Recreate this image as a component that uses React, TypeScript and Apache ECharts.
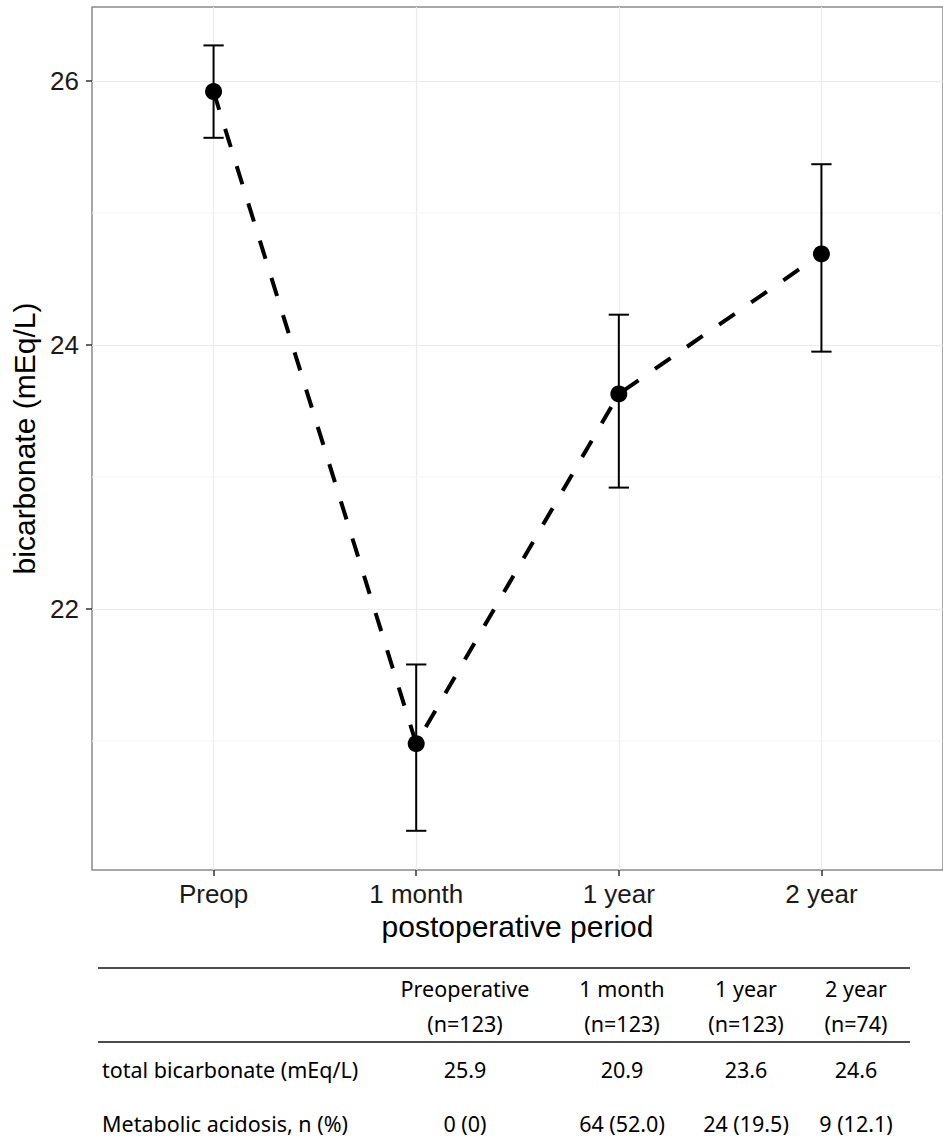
import React, { useEffect, useRef } from 'react';
import * as echarts from 'echarts';

// ---- chart data ----
const periods = ['Preop', '1 month', '1 year', '2 year'];
const periodPositions = [1, 2, 3, 4];
const meanValues = [25.92, 20.98, 23.63, 24.69];
const upperValues = [26.27, 21.58, 24.23, 25.37];
const lowerValues = [25.57, 20.32, 22.92, 23.95];
const yMajorTicks = [22, 24, 26];
const yMinorGrid = [21, 23, 25];

// ---- table data ----
const tableHeaders = ['Preoperative', '1 month', '1 year', '2 year'];
const tableCounts = ['(n=123)', '(n=123)', '(n=123)', '(n=74)'];
const rowLabels = ['total bicarbonate (mEq/L)', 'Metabolic acidosis, n (%)'];
const bicarbonateRow = ['25.9', '20.9', '23.6', '24.6'];
const acidosisRow = ['0 (0)', '64 (52.0)', '24 (19.5)', '9 (12.1)'];

const AXIS_FONT = '"Liberation Sans", Arial, sans-serif';
const TABLE_FONT = '"Noto Sans", sans-serif';

function buildTable(): any[] {
  const colX = [465, 622, 746, 856];
  const els: any[] = [];
  const lineStyle = { stroke: '#111', lineWidth: 1.6 };
  els.push({ type: 'line', shape: { x1: 98, y1: 968, x2: 910, y2: 968 }, style: lineStyle });
  els.push({ type: 'line', shape: { x1: 98, y1: 1042, x2: 910, y2: 1042 }, style: lineStyle });
  const txt = (text: string, x: number, y: number, align: string) => ({
    type: 'text',
    style: {
      text,
      x,
      y,
      fill: '#000',
      font: `21.5px ${TABLE_FONT}`,
      textAlign: align,
      align,
      textVerticalAlign: 'middle',
      verticalAlign: 'middle',
    },
  });
  tableHeaders.forEach((h, i) => els.push(txt(h, colX[i], 988, 'center')));
  tableCounts.forEach((h, i) => els.push(txt(h, colX[i], 1023, 'center')));
  els.push(txt(rowLabels[0], 102, 1069, 'left'));
  els.push(txt(rowLabels[1], 102, 1123, 'left'));
  bicarbonateRow.forEach((v, i) => els.push(txt(v, colX[i], 1069, 'center')));
  acidosisRow.forEach((v, i) => els.push(txt(v, colX[i], 1123, 'center')));
  return els;
}

export default function App() {
  const ref = useRef<HTMLDivElement>(null);

  useEffect(() => {
    if (!ref.current) return;
    const chart = echarts.init(ref.current, null, { renderer: 'svg' });

    const lineData = periodPositions.map((x, i) => [x, meanValues[i]]);
    const errData = periodPositions.map((x, i) => [x, lowerValues[i], upperValues[i]]);

    const option: any = {
      animation: false,
      backgroundColor: '#fff',
      grid: {
        left: 92,
        right: -2,
        top: 7,
        bottom: 275,
        show: true,
        borderColor: '#8a8a8a',
        borderWidth: 1.5,
        backgroundColor: 'transparent',
      },
      xAxis: {
        type: 'value',
        min: 0.4,
        max: 4.6,
        name: 'postoperative period',
        nameLocation: 'middle',
        nameGap: 36,
        nameTextStyle: { fontSize: 30, color: '#000', fontFamily: AXIS_FONT },
        axisLine: { show: false },
        axisTick: {
          show: true,
          customValues: periodPositions,
          length: 6,
          lineStyle: { color: '#333', width: 1.5 },
        },
        axisLabel: {
          customValues: periodPositions,
          formatter: (v: number) => periods[Math.round(v) - 1] ?? '',
          fontSize: 26,
          color: '#1a1a1a',
          fontFamily: AXIS_FONT,
          margin: 11,
        },
        splitLine: { show: true, lineStyle: { color: '#ebebeb', width: 1.2 } },
      },
      yAxis: {
        type: 'value',
        min: 20.023,
        max: 26.561,
        name: 'bicarbonate (mEq/L)',
        nameLocation: 'middle',
        nameGap: 46,
        nameTextStyle: { fontSize: 30, color: '#000', fontFamily: AXIS_FONT },
        axisLine: { show: false },
        axisTick: {
          show: true,
          customValues: yMajorTicks,
          length: 6,
          lineStyle: { color: '#333', width: 1.5 },
        },
        axisLabel: {
          customValues: yMajorTicks,
          formatter: (v: number) => String(v),
          fontSize: 26,
          color: '#1a1a1a',
          fontFamily: AXIS_FONT,
          margin: 13,
        },
        splitLine: { show: true, lineStyle: { color: '#ebebeb', width: 1.2 } },
      },
      series: [
        {
          type: 'custom',
          name: 'minorGrid',
          silent: true,
          z: 1,
          data: yMinorGrid.map((v) => [v]),
          encode: { y: 0 },
          renderItem: (params: any, api: any) => {
            const y = api.value(0);
            const p1 = api.coord([0.4, y]);
            const p2 = api.coord([4.6, y]);
            return {
              type: 'line',
              shape: { x1: p1[0], y1: p1[1], x2: p2[0], y2: p2[1] },
              style: { stroke: '#f4f4f4', lineWidth: 1 },
            };
          },
        },
        {
          type: 'line',
          data: lineData,
          showSymbol: false,
          z: 3,
          lineStyle: { color: '#000', width: 4, type: [19, 20], cap: 'butt' },
        },
        {
          type: 'custom',
          z: 4,
          data: errData,
          encode: { x: 0, y: [1, 2] },
          renderItem: (params: any, api: any) => {
            const x = api.value(0);
            const lo = api.value(1);
            const hi = api.value(2);
            const pLo = api.coord([x, lo]);
            const pHi = api.coord([x, hi]);
            const capL = api.coord([x - 0.05, hi])[0];
            const capR = api.coord([x + 0.05, hi])[0];
            const style = { stroke: '#000', lineWidth: 2 };
            return {
              type: 'group',
              children: [
                { type: 'line', shape: { x1: pLo[0], y1: pLo[1], x2: pHi[0], y2: pHi[1] }, style },
                { type: 'line', shape: { x1: capL, y1: pHi[1], x2: capR, y2: pHi[1] }, style },
                { type: 'line', shape: { x1: capL, y1: pLo[1], x2: capR, y2: pLo[1] }, style },
              ],
            };
          },
        },
        {
          type: 'scatter',
          data: lineData,
          z: 5,
          symbol: 'circle',
          symbolSize: 17,
          itemStyle: { color: '#000', opacity: 1 },
        },
      ],
      graphic: buildTable(),
    };

    chart.setOption(option);
    return () => chart.dispose();
  }, []);

  return (
    <div
      ref={ref}
      style={{ position: 'fixed', left: 0, top: 0, width: 943, height: 1145, background: '#fff' }}
    />
  );
}
